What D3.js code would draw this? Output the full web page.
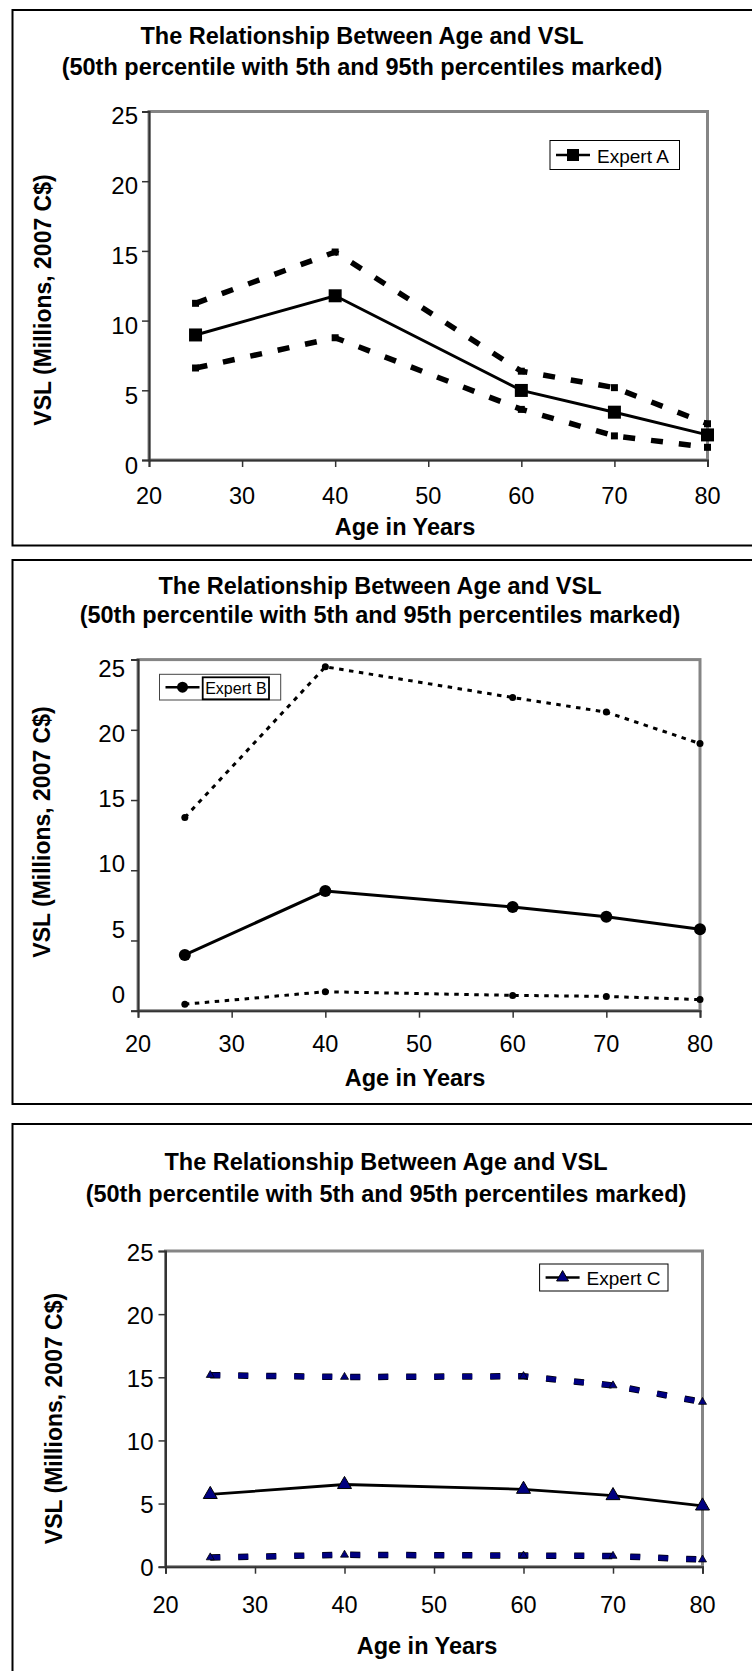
<!DOCTYPE html>
<html>
<head>
<meta charset="utf-8">
<script src="https://cdn.jsdelivr.net/npm/d3@7"></script>
<style>
  html, body { margin: 0; padding: 0; background: #fff; }
  svg { display: block; }
  text { font-family: "Liberation Sans", Arial, sans-serif; fill: #000; }
</style>
</head>
<body>
<script>
// ---------- data ----------
const ages = [25, 40, 60, 70, 80];
const xTicks = [20, 30, 40, 50, 60, 70, 80];
const yTicks = [0, 5, 10, 15, 20, 25];
const titleLine1 = "The Relationship Between Age and VSL";
const titleLine2 = "(50th percentile with 5th and 95th percentiles marked)";
const xTitle = "Age in Years";
const yTitle = "VSL (Millions, 2007 C$)";
const expertNames = ["Expert A", "Expert B", "Expert C"];

const expertA_p50 = [8.97, 11.78, 4.99, 3.43, 1.80];
const expertA_p95 = [11.24, 14.92, 6.37, 5.19, 2.60];
const expertA_p5  = [6.60, 8.77, 3.63, 1.73, 0.91];

const expertB_p50 = [3.97, 8.52, 7.38, 6.69, 5.80];
const expertB_p95 = [13.76, 24.49, 22.30, 21.26, 19.02];
const expertB_p5  = [0.46, 1.35, 1.09, 1.02, 0.79];

const expertC_p50 = [5.72, 6.51, 6.13, 5.63, 4.81];
const expertC_p95 = [15.17, 15.02, 15.08, 14.35, 13.04];
const expertC_p5  = [0.73, 0.94, 0.88, 0.85, 0.56];

// ---------- layout / style ----------
const W = 752, H = 1671;
const svg = d3.select("body").append("svg").attr("width", W).attr("height", H);

const panels = [
  {
    name: expertNames[0], p50: expertA_p50, p95: expertA_p95, p5: expertA_p5,
    box: [12.5, 10, 545.5],
    plot: { x0: 149, x1: 707.5, y0: 111.5, y1: 460 },
    labelShift: [6, 4], labelPad: 11,
    title: { cx: 362, y1: 36, y2: 67 },
    xLabY: 496, xTitle: [405, 527], yTitle: [43, 300],
    legend: { x0: 550, x1: 679.5, y0: 140.5, y1: 169.5, inner: null },
    marker: "square", bigSize: 13, smallSize: 7,
    medianColor: "#000", markFill: "#000",
    boundColor: "#000", boundWidth: 5.5, boundDash: "12,16", boundOutline: null,
    medianWidth: 3
  },
  {
    name: expertNames[1], p50: expertB_p50, p95: expertB_p95, p5: expertB_p5,
    box: [12.5, 560, 1104],
    plot: { x0: 138, x1: 700, y0: 659.6, y1: 1010.7 },
    labelShift: [-16, 9], labelPad: 13,
    title: { cx: 380, y1: 586, y2: 615 },
    xLabY: 1043.6, xTitle: [415, 1077.5], yTitle: [42, 832],
    legend: { x0: 159.5, x1: 280.7, y0: 674.3, y1: 700, inner: [202.7, 269, 677.3, 699.3] },
    marker: "circle", bigSize: 12, smallSize: 7,
    medianColor: "#000", markFill: "#000",
    boundColor: "#000", boundWidth: 3, boundDash: "4.5,5.5", boundOutline: null,
    medianWidth: 3
  },
  {
    name: expertNames[2], p50: expertC_p50, p95: expertC_p95, p5: expertC_p5,
    box: [12.5, 1124, 1700],
    plot: { x0: 165.5, x1: 702.5, y0: 1251, y1: 1566.7 },
    labelShift: [1, 2], labelPad: 12,
    title: { cx: 386, y1: 1162, y2: 1194.4 },
    xLabY: 1605, xTitle: [427, 1645.6], yTitle: [54, 1418.5],
    legend: { x0: 539.6, x1: 668, y0: 1264, y1: 1291, inner: null },
    marker: "triangle", bigSize: 14, smallSize: 8,
    medianColor: "#000", markFill: "#000080",
    boundColor: "#000080", boundWidth: 5, boundDash: "10,18", boundOutline: "#000",
    medianWidth: 2.8
  }
];

function markerPath(type, size) {
  if (type === "square") return d3.symbol(d3.symbolSquare, size * size)();
  if (type === "circle") return d3.symbol(d3.symbolCircle, Math.PI * (size / 2) * (size / 2))();
  return d3.symbol(d3.symbolTriangle, 0.433 * size * size)();
}

panels.forEach(p => {
  const g = svg.append("g");
  // outer chart border
  g.append("rect")
    .attr("x", p.box[0]).attr("y", p.box[1])
    .attr("width", 800).attr("height", p.box[2] - p.box[1])
    .attr("fill", "#fff").attr("stroke", "#000").attr("stroke-width", 2);

  const x = d3.scaleLinear().domain([20, 80]).range([p.plot.x0, p.plot.x1]);
  const y = d3.scaleLinear().domain([0, 25]).range([p.plot.y1, p.plot.y0]);
  const yLab = d3.scaleLinear().domain([0, 25])
    .range([p.plot.y1 + p.labelShift[0], p.plot.y0 + p.labelShift[1]]);

  // titles
  g.append("text").attr("x", p.title.cx).attr("y", p.title.y1)
    .attr("text-anchor", "middle").attr("dominant-baseline", "central")
    .style("font-size", "23.5px").style("font-weight", "bold").text(titleLine1);
  g.append("text").attr("x", p.title.cx).attr("y", p.title.y2)
    .attr("text-anchor", "middle").attr("dominant-baseline", "central")
    .style("font-size", "23.5px").style("font-weight", "bold").text(titleLine2);

  // plot area frame (top/right gray)
  g.append("rect")
    .attr("x", p.plot.x0).attr("y", p.plot.y0)
    .attr("width", p.plot.x1 - p.plot.x0).attr("height", p.plot.y1 - p.plot.y0)
    .attr("fill", "none").attr("stroke", "#858585").attr("stroke-width", 3);

  // y axis ticks (real scale)
  const yAxisG = g.append("g").attr("transform", `translate(${p.plot.x0},0)`)
    .call(d3.axisLeft(y).tickValues(yTicks).tickSize(7).tickFormat(""));
  yAxisG.select(".domain").attr("stroke", "#333").attr("stroke-width", 2);
  yAxisG.selectAll(".tick line").attr("stroke", "#333").attr("stroke-width", 1.5);

  // y labels
  const yLabG = g.append("g").attr("transform", `translate(${p.plot.x0},0)`)
    .call(d3.axisLeft(yLab).tickValues(yTicks).tickSize(0).tickPadding(p.labelPad));
  yLabG.select(".domain").remove();
  yLabG.selectAll("text").style("font-size", "24px")
    .style("font-family", '"Liberation Sans", Arial, sans-serif').attr("fill", "#000");

  // x axis
  const xAxisG = g.append("g").attr("transform", `translate(0,${p.plot.y1})`)
    .call(d3.axisBottom(x).tickValues(xTicks).tickSize(7).tickFormat(""));
  xAxisG.select(".domain").attr("stroke", "#333").attr("stroke-width", 2);
  xAxisG.selectAll(".tick line").attr("stroke", "#333").attr("stroke-width", 1.5);

  g.selectAll(".xlab").data(xTicks).enter().append("text")
    .attr("x", d => x(d)).attr("y", p.xLabY)
    .attr("text-anchor", "middle").attr("dominant-baseline", "central")
    .style("font-size", "23.5px").text(d => d);

  // axis titles
  g.append("text").attr("x", p.xTitle[0]).attr("y", p.xTitle[1])
    .attr("text-anchor", "middle").attr("dominant-baseline", "central")
    .style("font-size", "23.5px").style("font-weight", "bold").text(xTitle);
  g.append("text")
    .attr("transform", `translate(${p.yTitle[0]},${p.yTitle[1]}) rotate(-90)`)
    .attr("text-anchor", "middle").attr("dominant-baseline", "central")
    .style("font-size", "23px").style("font-weight", "bold").text(yTitle);

  const line = d3.line().x((d, i) => x(ages[i])).y(d => y(d));

  // bound series (5th and 95th)
  [p.p95, p.p5].forEach(series => {
    if (p.boundOutline) {
      g.append("path").datum(series).attr("d", line)
        .attr("fill", "none").attr("stroke", p.boundOutline)
        .attr("stroke-width", p.boundWidth + 1.5).attr("stroke-dasharray", p.boundDash);
    }
    g.append("path").datum(series).attr("d", line)
      .attr("fill", "none").attr("stroke", p.boundColor)
      .attr("stroke-width", p.boundWidth).attr("stroke-dasharray", p.boundDash);
    g.selectAll(null).data(series).enter().append("path")
      .attr("d", markerPath(p.marker, p.smallSize))
      .attr("transform", (d, i) => `translate(${x(ages[i])},${y(d)})`)
      .attr("fill", p.markFill).attr("stroke", "#000").attr("stroke-width", p.marker === "triangle" ? 0.8 : 0);
  });

  // median
  g.append("path").datum(p.p50).attr("d", line)
    .attr("fill", "none").attr("stroke", p.medianColor).attr("stroke-width", p.medianWidth);
  g.selectAll(null).data(p.p50).enter().append("path")
    .attr("d", markerPath(p.marker, p.bigSize))
    .attr("transform", (d, i) => `translate(${x(ages[i])},${y(d)})`)
    .attr("fill", p.markFill).attr("stroke", "#000").attr("stroke-width", p.marker === "triangle" ? 1 : 0);

  // legend
  const L = p.legend;
  g.append("rect").attr("x", L.x0).attr("y", L.y0)
    .attr("width", L.x1 - L.x0).attr("height", L.y1 - L.y0)
    .attr("fill", "#fff").attr("stroke", L.inner ? "#444" : "#000").attr("stroke-width", 1);
  const ly = (L.y0 + L.y1) / 2;
  const lx0 = L.x0 + 6, lx1 = L.x0 + 40;
  g.append("line").attr("x1", lx0).attr("x2", lx1).attr("y1", ly).attr("y2", ly)
    .attr("stroke", "#000").attr("stroke-width", 2.5);
  g.append("path").attr("d", markerPath(p.marker, p.marker === "circle" ? 11 : 12))
    .attr("transform", `translate(${(lx0 + lx1) / 2},${ly})`)
    .attr("fill", p.markFill).attr("stroke", "#000").attr("stroke-width", p.marker === "triangle" ? 1 : 0);
  if (L.inner) {
    g.append("rect").attr("x", L.inner[0]).attr("y", L.inner[2])
      .attr("width", L.inner[1] - L.inner[0]).attr("height", L.inner[3] - L.inner[2])
      .attr("fill", "none").attr("stroke", "#000").attr("stroke-width", 1.8);
    g.append("text").attr("x", L.inner[0] + 2.5).attr("y", ly + 1)
      .attr("dominant-baseline", "central").style("font-size", "16px").text(p.name);
  } else {
    g.append("text").attr("x", L.x0 + 47).attr("y", ly + 1)
      .attr("dominant-baseline", "central").style("font-size", "19px").text(p.name);
  }
});
</script>
</body>
</html>
